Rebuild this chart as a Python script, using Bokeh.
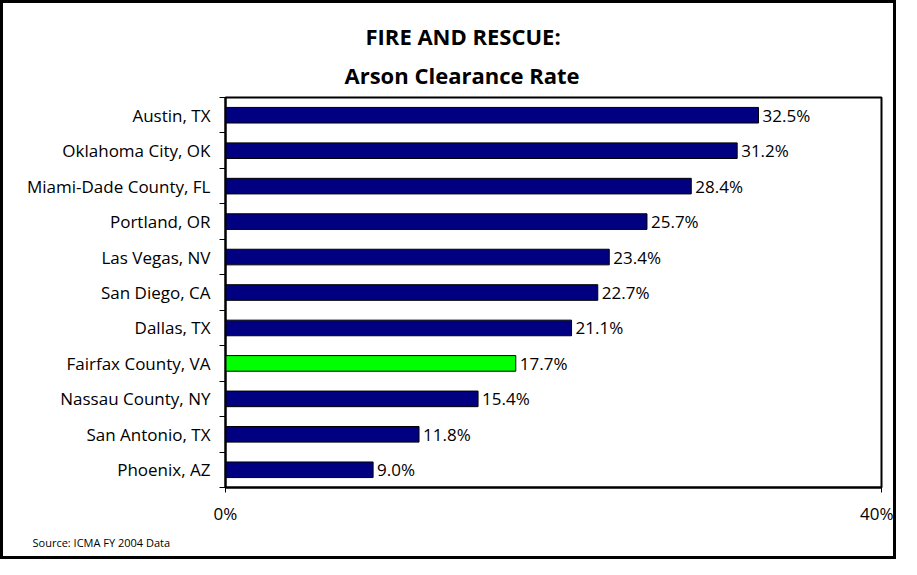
from bokeh.plotting import figure
from bokeh.models import ColumnDataSource, FixedTicker, Title, LabelSet
from bokeh.core.properties import value
from bokeh.embed import file_html
from bokeh.resources import INLINE

cities = ["Austin, TX", "Oklahoma City, OK", "Miami-Dade County, FL", "Portland, OR",
          "Las Vegas, NV", "San Diego, CA", "Dallas, TX", "Fairfax County, VA",
          "Nassau County, NY", "San Antonio, TX", "Phoenix, AZ"]
rates = [32.5, 31.2, 28.4, 25.7, 23.4, 22.7, 21.1, 17.7, 15.4, 11.8, 9.0]
highlight = "Fairfax County, VA"
x_ticks = [0, 40]
x_tick_labels = ["0%", "40%"]
title_lines = ["FIRE AND RESCUE:", "Arson Clearance Rate"]
source_note = "Source: ICMA FY 2004 Data"

FONT = "Open Sans"
n = len(cities)
ypos = [n - i for i in range(n)]
colors = ["#00FF00" if c == highlight else "#000080" for c in cities]
labels = [f"{v:.1f}%" for v in rates]

src = ColumnDataSource(dict(y=ypos, rate=rates, color=colors, label=labels))

p = figure(width=896, height=559, output_backend="svg", toolbar_location=None,
           x_range=(0, 40), y_range=(0.5, n + 0.5),
           min_border_left=222, min_border_right=18, min_border_top=94, min_border_bottom=75)
p.styles = {"border": "3px solid black"}
p.background_fill_color = "white"
p.border_fill_color = "white"
p.outline_line_color = "black"
p.outline_line_width = 2
p.xgrid.visible = False
p.ygrid.visible = False

p.hbar(y="y", right="rate", left=0, height=0.44, fill_color="color",
       line_color="black", line_width=1, source=src)
p.add_layout(LabelSet(x="rate", y="y", text="label", source=src, x_offset=4,
                      text_baseline="middle", text_font=value(FONT), text_font_size="17px",
                      text_color="black"))

# y axis
yax = p.yaxis[0]
yax.ticker = FixedTicker(ticks=ypos, minor_ticks=[k + 0.5 for k in range(n + 1)])
yax.major_label_overrides = {y: c for y, c in zip(ypos, cities)}
yax.major_tick_line_color = None
yax.major_tick_out = 0
yax.major_tick_in = 0
yax.minor_tick_line_color = "black"
yax.minor_tick_out = 6
yax.minor_tick_in = 0
yax.axis_line_width = 2
yax.major_label_text_font = FONT
yax.major_label_text_font_size = "17px"
yax.major_label_text_color = "black"
yax.major_label_standoff = 9

# x axis
xax = p.xaxis[0]
xax.ticker = FixedTicker(ticks=x_ticks)
xax.major_label_overrides = {t: l for t, l in zip(x_ticks, x_tick_labels)}
xax.major_tick_out = 5
xax.major_tick_in = 0
xax.minor_tick_line_color = None
xax.axis_line_width = 2
xax.major_label_text_font = FONT
xax.major_label_text_font_size = "17px"
xax.major_label_text_color = "black"
xax.major_label_standoff = 9

p.title = None
t2 = Title(text=title_lines[1], align="left", text_font=FONT, text_color="black",
           text_font_size="22px", text_font_style="bold", offset=119, standoff=15)
t1 = Title(text=title_lines[0], align="left", text_font=FONT, text_color="black",
           text_font_size="22px", text_font_style="bold", offset=140, standoff=0)
p.add_layout(t2, "above")
p.add_layout(t1, "above")

src_t = Title(text=source_note, align="left", text_font=FONT,
              text_color="black", text_font_size="11px", text_font_style="normal",
              offset=-193)
p.add_layout(src_t, "below")

open("out.html", "w").write(file_html(p, INLINE))
